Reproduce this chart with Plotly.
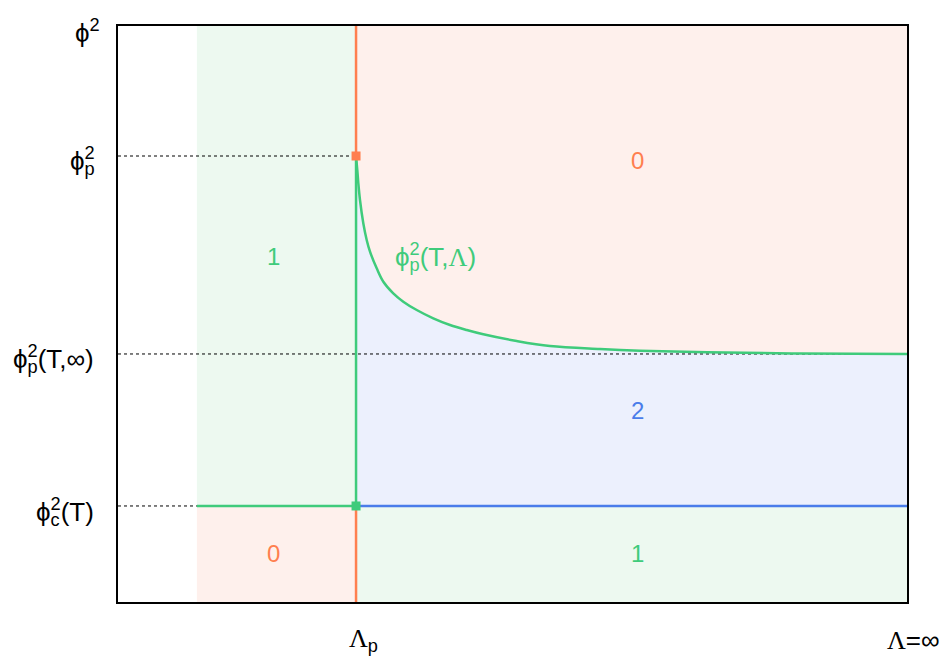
import plotly.graph_objects as go

# ---- data (axis-fraction units) ----
lam_left = 0.100      # left edge of the shaded domain
lam_p = 0.3017        # Λp
lam_inf = 1.0         # Λ=∞
phi_c = 0.1667        # φc²(T)
phi_inf = 0.4306      # φp²(T,∞)
phi_p = 0.7743        # φp²
phi_top = 1.0         # φ²

curve_x = [0.3017, 0.3033, 0.3046, 0.3067, 0.3109, 0.3152, 0.3194, 0.3279,
           0.3363, 0.3489, 0.3616, 0.3786, 0.3996, 0.4208, 0.4420, 0.4630,
           0.5053, 0.5475, 0.6109, 0.6616, 0.7465, 0.8644, 1.0]
curve_y = [0.7743, 0.7500, 0.7269, 0.6979, 0.6575, 0.6285, 0.6082, 0.5793,
           0.5561, 0.5359, 0.5214, 0.5069, 0.4925, 0.4809, 0.4722, 0.4648,
           0.4531, 0.4444, 0.4392, 0.4363, 0.4335, 0.4314, 0.4306]

SERIF = '<span style="font-family:Liberation Serif">{}</span>'
# y labels: (base, subscript, superscript, trailing text)
ytick_vals = [phi_top, phi_p, phi_inf, phi_c]
ytick_parts = [('ϕ', '', '2', ''), ('ϕ', 'p', '2', ''),
               ('ϕ', 'p', '2', '(T,∞)'), ('ϕ', 'c', '2', '(T)')]
xtick_vals = [lam_p, lam_inf]
xtick_text = [SERIF.format('Λ') + '<sub>p</sub>', SERIF.format('Λ') + '=∞']
curve_label = ('ϕ', 'p', '2', '(T,' + SERIF.format('Λ') + ')')

region_labels = ['1', '0', '1', '2', '0']
region_x = [0.1977, 0.1977, 0.6578, 0.6578, 0.6578]
region_y = [0.599, 0.085, 0.085, 0.333, 0.767]

# ---- styles ----
GREEN = '#3FCB7B'
ORANGE = '#FF7F4F'
BLUE = '#4A7CEA'
BG_GREEN = '#EDF9F0'
BG_PINK = '#FEF0EC'
BG_BLUE = '#ECF0FD'
label_colors = [GREEN, ORANGE, GREEN, BLUE, ORANGE]
FS = 24
FS_AX = 26
ylabel_right_px = [102, 97, 96, 96]   # right edge of each y label (page px)
xlabel_left_px = [347, 885]
PLOT_L, PLOT_T, PLOT_R, PLOT_B = 118, 26, 907, 602
SUB_W = {'p': 0.556, 'c': 0.5}


def stacked(base, sub, sup, rest):
    """superscript drawn above the subscript (zero-advance subscript)"""
    if not sub:
        return base + '<sup>' + sup + '</sup>' + rest
    sub_s = '<span style="letter-spacing:-%.3fem">%s</span>' % (SUB_W[sub], sub)
    return base + '<sub>' + sub_s + '</sub><sup>' + sup + '</sup>' + rest


fig = go.Figure()

shapes = [
    dict(type='rect', x0=lam_left, x1=lam_p, y0=phi_c, y1=phi_top, fillcolor=BG_GREEN),
    dict(type='rect', x0=lam_left, x1=lam_p, y0=0, y1=phi_c, fillcolor=BG_PINK),
    dict(type='rect', x0=lam_p, x1=lam_inf, y0=0, y1=phi_c, fillcolor=BG_GREEN),
    dict(type='rect', x0=lam_p, x1=lam_inf, y0=phi_c, y1=phi_top, fillcolor=BG_PINK),
]
for s in shapes:
    s.update(layer='below', line=dict(width=0), xref='x', yref='y')

# blue region between the φc² level and the curve
fig.add_trace(go.Scatter(x=[lam_p, lam_inf], y=[phi_c, phi_c], mode='lines',
                         line=dict(width=0), hoverinfo='skip'))
fig.add_trace(go.Scatter(x=curve_x, y=curve_y, mode='lines', fill='tonexty',
                         fillcolor=BG_BLUE, hoverinfo='skip',
                         line=dict(width=0, shape='spline', smoothing=1.0)))

dot = dict(color='black', width=1, dash='dot')
fig.add_trace(go.Scatter(x=[0, lam_p], y=[phi_p, phi_p], mode='lines', line=dot))
fig.add_trace(go.Scatter(x=[0, lam_inf], y=[phi_inf, phi_inf], mode='lines', line=dot))
fig.add_trace(go.Scatter(x=[0, lam_left], y=[phi_c, phi_c], mode='lines', line=dot))

# boundary lines
LW = 2.5
fig.add_trace(go.Scatter(x=[lam_p, lam_p], y=[phi_p, phi_top], mode='lines',
                         line=dict(color=ORANGE, width=LW)))
fig.add_trace(go.Scatter(x=[lam_p, lam_p], y=[0, phi_c], mode='lines',
                         line=dict(color=ORANGE, width=LW)))
fig.add_trace(go.Scatter(x=[lam_p, lam_p], y=[phi_c, phi_p], mode='lines',
                         line=dict(color=GREEN, width=LW)))
fig.add_trace(go.Scatter(x=[lam_left, lam_p], y=[phi_c, phi_c], mode='lines',
                         line=dict(color=GREEN, width=LW)))
fig.add_trace(go.Scatter(x=[lam_p, lam_inf], y=[phi_c, phi_c], mode='lines',
                         line=dict(color=BLUE, width=LW)))
fig.add_trace(go.Scatter(x=curve_x, y=curve_y, mode='lines',
                         line=dict(color=GREEN, width=LW, shape='spline', smoothing=1.0)))

fig.add_trace(go.Scatter(x=[lam_p], y=[phi_p], mode='markers',
                         marker=dict(symbol='square', size=9, color=ORANGE)))
fig.add_trace(go.Scatter(x=[lam_p], y=[phi_c], mode='markers',
                         marker=dict(symbol='square', size=9, color=GREEN)))

annotations = []
for t, x, y, c in zip(region_labels, region_x, region_y, label_colors):
    annotations.append(dict(x=x, y=y, text=t, showarrow=False,
                            font=dict(size=FS, color=c)))

# curve label
annotations.append(dict(x=(393 - PLOT_L) / (PLOT_R - PLOT_L), y=0.599, xanchor='left',
                        yanchor='middle', text=stacked(*curve_label), showarrow=False,
                        font=dict(size=FS_AX, color=GREEN)))

# y labels
for v, parts, rp in zip(ytick_vals, ytick_parts, ylabel_right_px):
    annotations.append(dict(xref='paper', x=0, xanchor='right', xshift=rp - PLOT_L,
                            yref='y', y=v, yanchor='middle', yshift=-5,
                            text=stacked(*parts), showarrow=False,
                            font=dict(size=FS_AX, color='black')))

# x labels
for v, txt, lp in zip(xtick_vals, xtick_text, xlabel_left_px):
    annotations.append(dict(xref='paper', x=0, xanchor='left', xshift=lp - PLOT_L,
                            yref='paper', y=0, yanchor='middle', yshift=-(640 - PLOT_B),
                            text=txt, showarrow=False, font=dict(size=FS_AX, color='black')))

fig.update_layout(
    width=943, height=656,
    margin=dict(l=PLOT_L, r=943 - PLOT_R, t=PLOT_T, b=656 - PLOT_B),
    plot_bgcolor='white', paper_bgcolor='white',
    showlegend=False,
    shapes=shapes, annotations=annotations,
    font=dict(family='Liberation Sans, Arial, sans-serif', size=FS, color='black'),
    xaxis=dict(range=[0, 1], tickvals=xtick_vals, showticklabels=False,
               showgrid=False, zeroline=False, showline=True, mirror=True,
               linecolor='black', linewidth=1.5, ticks=''),
    yaxis=dict(range=[0, 1], tickvals=ytick_vals, showticklabels=False,
               showgrid=False, zeroline=False, showline=True, mirror=True,
               linecolor='black', linewidth=1.5, ticks=''),
)

fig.write_html('out.html', config={'displayModeBar': False},
               post_script="document.body.style.margin='0px';")
